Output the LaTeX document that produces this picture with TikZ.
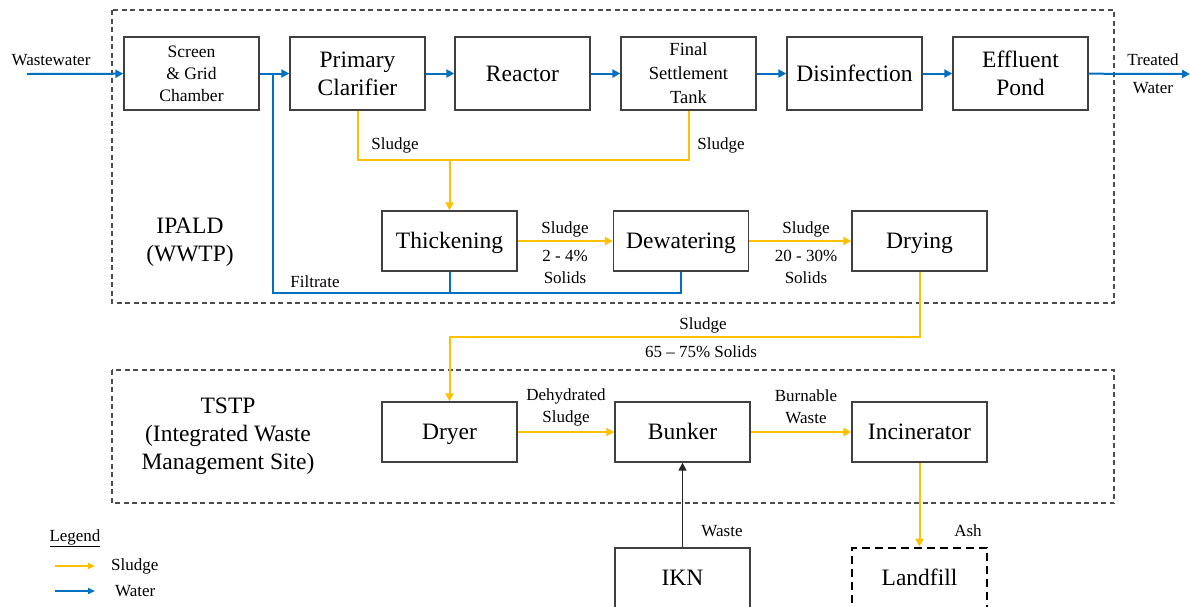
\documentclass[tikz,border=0pt]{standalone}
\usepackage{fontspec}
\setmainfont{Liberation Serif}
\usetikzlibrary{arrows.meta}
\definecolor{sludgecol}{HTML}{FFC000}
\definecolor{watercol}{HTML}{0070C0}
\definecolor{edgecol}{HTML}{404040}
\begin{document}
\begin{tikzpicture}[x=1pt,y=-1pt,
  unit/.style={draw=edgecol,line width=1.4pt,minimum width=135pt,align=center,inner sep=0pt},
  toprow/.style={unit,minimum height=73pt},
  midrow/.style={unit,minimum height=60pt},
  big/.style={font=\fontsize{23.5}{28}\selectfont},
  oneline/.style={text height=20.9pt,text depth=5.1pt},
  small/.style={font=\fontsize{17.5}{22}\selectfont},
  lbl/.style={font=\fontsize{17}{22}\selectfont,align=center,inner sep=0pt},
  water/.style={draw=watercol,line width=2pt},
  sludge/.style={draw=sludgecol,line width=2pt},
  waste/.style={draw=black!85,line width=1.5pt},
  tip/.style={-{Triangle[length=8pt,width=8pt]}},
  zone/.style={draw=black!70,line width=1.2pt,dash pattern=on 5pt off 3.5pt},
]
\useasboundingbox (0,0) rectangle (1190,606);
\clip (0,0) rectangle (1190,606);

% plant zones
\draw[zone] (112,10) rectangle (1114,303);
\draw[zone] (112,370) rectangle (1114,503);
\node[big,align=center] (ipald) at (190,242) {IPALD\\(WWTP)};
\node[big,align=center] (tstp) at (228,436) {TSTP\\(Integrated Waste\\Management Site)};

% wastewater treatment line
\node[toprow,small] (scr) at (191.5,73.5) {Screen\\\& Grid\\Chamber};
\node[toprow,big] (pc) at (357.5,73.5) {Primary\\Clarifier};
\node[toprow,font=\fontsize{18.5}{24}\selectfont] (fst) at (688.5,73.5) {Final\\Settlement\\Tank};
\node[toprow,big,oneline] (rea) at (522.5,73.5) {Reactor};
\node[toprow,big,oneline] (dis) at (854.5,73.5) {Disinfection};
\node[toprow,big] (eff) at (1020.5,73.5) {Effluent\\Pond};

% sludge handling line
\node[midrow,big,oneline] (thk) at (449.5,241) {Thickening};
\node[midrow,big,oneline] (dew) at (681,241) {Dewatering};
\node[midrow,big,oneline] (dry) at (919.5,241) {Drying};

% waste management site
\node[midrow,big,oneline] (dryer) at (449.5,432) {Dryer};
\node[midrow,big,oneline] (bun) at (682.5,432) {Bunker};
\node[midrow,big,oneline] (inc) at (919.5,432) {Incinerator};
\node[midrow,big,oneline] (ikn) at (682.5,578) {IKN};
\node[midrow,big,oneline,draw=black,line width=2.8pt,dash pattern=on 8pt off 5pt] (land) at (919.5,578) {Landfill};

% water flow
\coordinate (win) at (27,74);
\coordinate (wout) at (1190,74);
\draw[water,tip] (win) -- (scr);
\draw[water,tip] (scr) -- (pc);
\draw[water,tip] (pc) -- (rea);
\draw[water,tip] (rea) -- (fst);
\draw[water,tip] (fst) -- (dis);
\draw[water,tip] (dis) -- (eff);
\draw[water,tip] (eff) -- (wout);
\node[lbl] (lwin) at (51,60) {Wastewater};
\node[lbl] (ltreat) at (1153,60) {Treated};
\node[lbl] (lwater) at (1153,88) {Water};

% filtrate return
\coordinate (fj) at (273,74);
\coordinate (fb) at (273,293);
\draw[water] (fj) -- (fb) -| (dew.south);
\draw[water] (thk.south) -- (thk.south |- fb);
\node[lbl] (lfil) at (315,282) {Filtrate};

% sludge collection
\coordinate (sj) at (449.5,160);
\draw[sludge] (pc.south) |- (sj) -| (fst.south);
\draw[sludge,tip] (sj) -- (thk.north);
\node[lbl] (ls1) at (395,145) {Sludge};
\node[lbl] (ls2) at (721,145) {Sludge};

\draw[sludge,tip] (thk) -- (dew);
\node[lbl] (ls3) at (565,229) {Sludge};
\node[lbl] (ls3b) at (565,267) {2 - 4\%\\Solids};
\draw[sludge,tip] (dew) -- (dry);
\node[lbl] (ls4) at (806,229) {Sludge};
\node[lbl] (ls4b) at (806,267) {20 - 30\%\\Solids};

\coordinate (dj) at (919.5,337);
\draw[sludge,tip] (dry.south) -- (dj) -| (dryer.north);
\node[lbl] (ls5) at (703,325) {Sludge};
\node[lbl] (ls5b) at (701,352) {65 – 75\% Solids};

\draw[sludge,tip] (dryer) -- (bun);
\node[lbl] (lds) at (566,407) {Dehydrated\\Sludge};
\draw[sludge,tip] (bun) -- (inc);
\node[lbl] (lbw) at (806,407) {Burnable\\Waste};
\draw[sludge,tip] (inc) -- (land);
\node[lbl] (lash) at (968,531) {Ash};
\draw[waste,tip] (ikn) -- (bun);
\node[lbl] (lwaste) at (722,531) {Waste};

% legend
\node[lbl] (leg) at (75,538) {\underline{Legend}};
\coordinate (lga) at (55,566);
\coordinate (lgb) at (95,566);
\coordinate (lgc) at (55,591);
\coordinate (lgd) at (95,591);
\draw[sludgecol,line width=2pt,-{Triangle[length=7pt,width=6pt]}] (lga) -- (lgb);
\draw[watercol,line width=2pt,-{Triangle[length=7pt,width=6pt]}] (lgc) -- (lgd);
\node[lbl,anchor=west] (lgs) at (111,566) {Sludge};
\node[lbl,anchor=west] (lgw) at (115,591) {Water};
\end{tikzpicture}
\end{document}
